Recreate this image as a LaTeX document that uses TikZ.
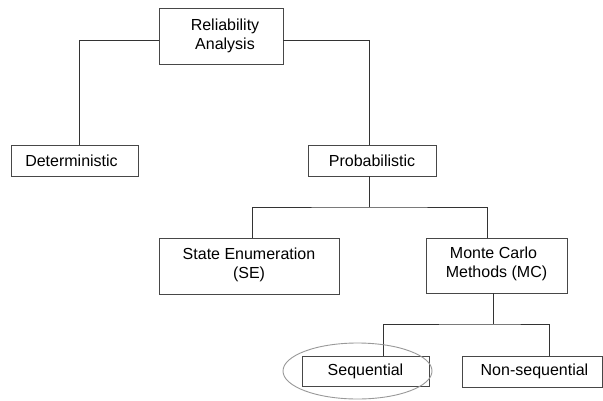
\documentclass[tikz,border=0pt]{standalone}
\usepackage{fontspec}
\setmainfont{Liberation Sans}
\usetikzlibrary{shapes.geometric}
\begin{document}
\begin{tikzpicture}[x=1pt,y=-1pt,
  box/.style={draw=black!72, line width=0.9pt, fill=white, inner sep=0pt, align=center,
    font=\fontsize{16}{19}\selectfont, text=black},
  conn/.style={draw=black!80, line width=0.8pt},
  hilite/.style={draw=black!40, line width=0.9pt, ellipse, inner sep=0pt}]
\useasboundingbox (0,0) rectangle (603,400);
\fill[white] (0,0) rectangle (603,400);

\node[box, minimum width=124, minimum height=56] (rel) at (221,36) {\hspace*{8pt}Reliability\\\hspace*{8pt}Analysis};
\node[box, minimum width=127, minimum height=31] (det) at (74.5,160.5) {Deterministic\hspace*{6pt}};
\node[box, minimum width=128, minimum height=31] (prob) at (372,160.5) {Probabilistic};
\node[box, minimum width=180, minimum height=56] (se) at (249,266) {State Enumeration\\(SE)\\[-13pt]};
\node[box, minimum width=141, minimum height=55] (mc) at (496.5,265.5) {Monte Carlo\hspace*{6pt}\\Methods (MC)\hspace*{6pt}\\[-13pt]};
\node[box, minimum width=127, minimum height=30] (seq) at (365.5,371) {Sequential};
\node[box, minimum width=140, minimum height=31] (ns) at (532,371.5) {\hspace*{5pt}Non-sequential};

\coordinate (j1) at (369,207);
\coordinate (j2) at (493,324);

\draw[conn] ([yshift=-4pt]rel.west) -| ([xshift=4.5pt]det.north);
\draw[conn] ([yshift=-4pt]rel.east) -| ([xshift=-3pt]prob.north);
\draw[conn] ([xshift=-3pt]prob.south) -- (j1);
\draw[conn] ([xshift=3pt]se.north) |- (j1) -| ([xshift=-9.5pt]mc.north);
\draw[conn] ([xshift=-3.5pt]mc.south) -- (j2);
\draw[conn] ([xshift=17.5pt]seq.north) |- (j2) -| ([xshift=17pt]ns.north);

\node[hilite, minimum width=149, minimum height=56] (hl) at (357.5,371) {};
\end{tikzpicture}
\end{document}
